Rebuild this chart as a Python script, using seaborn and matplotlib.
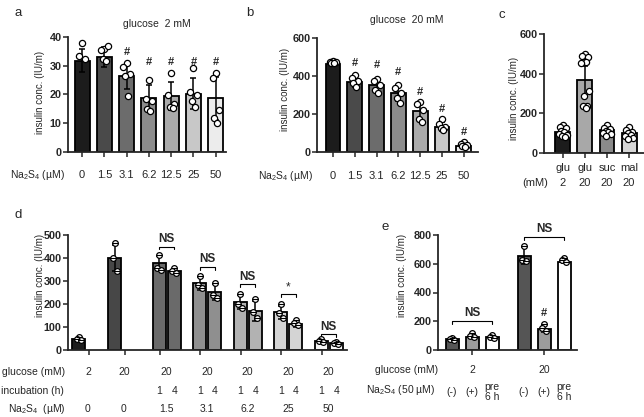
import numpy as np
import matplotlib
matplotlib.use("Agg")
import matplotlib.pyplot as plt
import seaborn as sns

# ---------------- data ----------------
# panel a : glucose 2 mM
conc_labels = ["0", "1.5", "3.1", "6.2", "12.5", "25", "50"]
a_mean = [31.8, 33.0, 26.3, 18.8, 19.4, 20.3, 18.7]
a_sd = [4.0, 3.4, 4.3, 4.4, 4.8, 5.3, 7.5]
a_points = [
    [37.8, 33.4, 32.2],
    [35.7, 35.4, 36.8, 32.3, 31.5],
    [30.8, 29.6, 27.3, 26.4, 19.4],
    [25.0, 18.4, 17.6, 15.0, 14.2],
    [27.6, 19.8, 16.7, 15.8, 15.4],
    [29.3, 21.0, 19.8, 17.7, 15.6],
    [27.6, 25.6, 14.6, 11.8, 10.1],
]
a_sig = ["", "", "#", "#", "#", "#", "#"]

# panel b : glucose 20 mM
b_mean = [462, 366, 352, 308, 216, 134, 32]
b_sd = [8, 22, 30, 38, 45, 25, 10]
b_points = [
    [476, 474, 472, 470, 465],
    [405, 387, 375, 361, 344],
    [384, 372, 352, 326, 312],
    [352, 335, 309, 283, 257],
    [265, 253, 222, 173, 161],
    [173, 148, 134, 126, 117],
    [52, 44, 38, 33, 30],
]
b_sig = ["", "#", "#", "#", "#", "#", "#"]

# panel c : sugars
c_sugar = ["glu", "glu", "suc", "mal"]
c_mm = ["2", "20", "20", "20"]
c_mean = [104, 366, 116, 99]
c_sd = [22, 72, 15, 15]
c_points = [
    [142, 133, 126, 112, 104, 97, 92, 86, 80],
    [497, 491, 486, 461, 457, 452, 315, 288, 238, 235, 226],
    [141, 128, 120, 112, 106, 100, 95, 88],
    [129, 116, 105, 99, 92, 85, 78, 71],
]

# panel d : incubation time
d_glucose = ["2", "20", "20", "20", "20", "20", "20"]
d_na2s4 = ["0", "0", "1.5", "3.1", "6.2", "25", "50"]
d_single_mean = [48, 400]
d_single_sd = [8, 58]
d_single_points = [[55, 48, 44], [465, 400, 345]]
d_mean_1h = [377, 290, 210, 164, 37]
d_sd_1h = [30, 27, 30, 28, 7]
d_mean_4h = [343, 252, 170, 112, 29]
d_sd_4h = [10, 35, 42, 10, 5]
d_points_1h = [[413, 358, 348], [322, 283, 268], [243, 199, 181],
               [200, 160, 141], [48, 39, 33]]
d_points_4h = [[358, 343, 333], [290, 239, 225], [222, 164, 138],
               [130, 116, 109], [36, 29, 25]]
d_sig = ["NS", "NS", "NS", "*", "NS"]

# panel e : pre-treatment
e_glucose = ["2", "20"]
e_treat = ["(-)", "(+)", "pre\n6 h"]
e_mean = [77, 93, 88, 657, 146, 615]
e_sd = [8, 10, 8, 60, 18, 10]
e_points = [[86, 77, 72], [116, 95, 88], [104, 93, 86],
            [724, 626, 620], [179, 151, 132], [643, 626, 615]]
e_sig = ["", "", "", "", "#", ""]

# ---------------- style ----------------
sns.set_style("ticks")
plt.rcParams["font.family"] = ["Liberation Sans", "DejaVu Sans"]
plt.rcParams["mathtext.fontset"] = "custom"
plt.rcParams["mathtext.rm"] = "Liberation Sans"
plt.rcParams["mathtext.it"] = "Liberation Sans:italic"

W, H = 644, 417
fig = plt.figure(figsize=(W / 100, H / 100), dpi=100)

grays7 = ["#1c1c1c", "#4a4a4a", "#6c6c6c", "#8c8c8c", "#aaaaaa", "#c8c8c8", "#ececec"]
jitter = [0.0, -0.18, 0.18, -0.09, 0.09, -0.22, 0.22, -0.04, 0.13, -0.13, 0.04]
NA2S4 = "Na$_2$S$_4$"


def add_ax(l, r, top, bottom):
    ax = fig.add_axes([l / W, 1 - bottom / H, (r - l) / W, (bottom - top) / H])
    ax.px = (top, bottom)
    return ax


def style(ax, yticks):
    sns.despine(ax=ax)
    for s in ["left", "bottom"]:
        ax.spines[s].set_linewidth(1.3)
    ax.set_ylim(yticks[0], yticks[-1])
    ax.set_yticks(yticks)
    ax.tick_params(direction="out", length=3.5, width=1.1, labelsize=7.8, pad=1)
    for lab in ax.get_yticklabels():
        lab.set_fontweight("bold")
    ax.set_xticklabels([])
    ax.set_ylabel("")


def bars(ax, xs, means, sds, colors, points, width, spread, s=20, crossed=False):
    ax.bar(xs, means, width, color=colors, edgecolor="black", linewidth=1.3, zorder=2)
    ax.errorbar(xs, means, yerr=sds, fmt="none", ecolor="black", elinewidth=1.1,
                capsize=2.5, capthick=1.1, zorder=3)
    for x, pts in zip(xs, points):
        px = [x + jitter[i] * spread for i in range(len(pts))]
        sns.scatterplot(x=px, y=pts, ax=ax, marker="o", s=s, color="white",
                        edgecolor="black", linewidth=0.9, zorder=4, legend=False)
        if crossed:
            ax.scatter(px, pts, marker="_", s=s * 0.9, color="black", linewidth=0.8, zorder=5)


def row(ax, xs, labels, ypx, size=7.5):
    top, bottom = ax.px
    y = (bottom - ypx) / (bottom - top)
    for x, lab in zip(xs, labels):
        ax.text(x, y, lab, transform=ax.get_xaxis_transform(), ha="center",
                va="center", fontsize=size, linespacing=0.95, clip_on=False)


def ftext(x, y, s, **kw):
    fig.text(x / W, 1 - y / H, s, **kw)


def ylab(x, y):
    ftext(x, y, "insulin conc. (IU/m)", rotation=90, ha="center", va="center", fontsize=7)


def marks(ax, xs, tops, sig, size=8):
    for x, t, m in zip(xs, tops, sig):
        if m:
            ax.text(x, t, m, ha="center", va="center", fontsize=size, fontweight="bold",
                    clip_on=False)


# ---------------- panel a ----------------
ax = add_ax(68, 226, 37, 152)
xs = np.arange(7)
bars(ax, xs, a_mean, a_sd, grays7, a_points, 0.67, 0.8)
ax.set_xlim(-0.63, 6.46)
ax.set_xticks(xs)
style(ax, [0, 10, 20, 30, 40])
row(ax, xs, conc_labels, 175, 8)
marks(ax, xs, [0, 0, 34.8, 31.3, 31.3, 31.3, 31.3], a_sig)
ftext(65, 175, NA2S4 + " (µM)", ha="right", va="center", fontsize=7.5)
ftext(157, 24, "glucose  2 mM", ha="center", va="center", fontsize=7.5)
ftext(18, 13, "a", ha="center", va="center", fontsize=9.5)
ylab(40, 92)

# ---------------- panel b ----------------
ax = add_ax(317, 478, 37.7, 152.3)
bars(ax, xs, b_mean, b_sd, grays7, b_points, 0.68, 0.75)
ax.set_xlim(-0.73, 6.65)
ax.set_xticks(xs)
style(ax, [0, 200, 400, 600])
row(ax, xs, conc_labels, 176, 8)
marks(ax, xs, [0, 466, 457, 422, 317, 225, 108], b_sig)
ftext(313, 176, NA2S4 + " (µM)", ha="right", va="center", fontsize=7.5)
ftext(407, 20, "glucose  20 mM", ha="center", va="center", fontsize=7.5)
ftext(250, 13, "b", ha="center", va="center", fontsize=9.5)
ylab(285, 89)

# ---------------- panel c ----------------
ax = add_ax(544, 644, 34, 153)
xc = np.arange(4)
bars(ax, xc, c_mean, c_sd, ["#1c1c1c", "#a8a8a8", "#8a8a8a", "#d6d6d6"], c_points, 0.68, 0.75)
ax.set_xlim(-0.86, 3.68)
ax.set_xticks(xc)
style(ax, [0, 200, 400, 600])
row(ax, xc, c_sugar, 168, 8)
row(ax, xc, c_mm, 183, 8)
ftext(535, 183, "(mM)", ha="center", va="center", fontsize=8)
ftext(502, 15, "c", ha="center", va="center", fontsize=9.5)
ylab(514, 98)

# ---------------- panel d ----------------
ax = add_ax(68, 347, 235, 350)
singles = [0.0, 2.4]
pair_left = 5.35 + 2.7 * np.arange(5)
pair_right = pair_left + 1.0
d_colors = ["#6a6a6a", "#8f8f8f", "#b2b2b2", "#d4d4d4", "#f8f8f8"]
bars(ax, singles, d_single_mean, d_single_sd, ["#1c1c1c", "#474747"], d_single_points,
     0.87, 0.7, s=17, crossed=True)
bars(ax, pair_left, d_mean_1h, d_sd_1h, d_colors, d_points_1h, 0.87, 0.7, s=17, crossed=True)
bars(ax, pair_right, d_mean_4h, d_sd_4h, d_colors, d_points_4h, 0.87, 0.7, s=17, crossed=True)
ax.set_xlim(-0.73, 17.87)
ax.set_xticks(list(np.array(singles) + 0.65) + list(pair_left + 0.05))
style(ax, [0, 100, 200, 300, 400, 500])
centers = list(np.array(singles) + 0.6) + list(pair_left + 0.5)
row(ax, centers, d_glucose, 372)
row(ax, pair_left, ["1"] * 5, 391)
row(ax, pair_right, ["4"] * 5, 391)
row(ax, centers, d_na2s4, 409)
bracket_y = [449, 362, 286, 242, 70]
for xl, xr, by, m in zip(pair_left, pair_right, bracket_y, d_sig):
    ax.plot([xl, xl, xr, xr], [by - 12, by, by, by - 12], color="black", lw=0.8, clip_on=False)
    ax.text((xl + xr) / 2, by + 6, m, ha="center", va="bottom", fontsize=8.5,
            fontweight="bold" if m == "NS" else "normal")
ftext(65, 372, "glucose (mM)", ha="right", va="center", fontsize=7.5)
ftext(64, 391, "incubation (h)", ha="right", va="center", fontsize=7.5)
ftext(66, 409, NA2S4 + "  (µM)", ha="right", va="center", fontsize=7.5)
ftext(18, 215, "d", ha="center", va="center", fontsize=9.5)
ylab(40, 275)

# ---------------- panel e ----------------
ax = add_ax(438, 577, 235, 350)
xe = [0, 1, 2, 3.6, 4.6, 5.6]
e_colors = ["#555555", "#9c9c9c", "#ffffff"] * 2
bars(ax, xe, e_mean, e_sd, e_colors, e_points, 0.65, 0.6, s=17, crossed=True)
ax.set_xlim(-0.7, 6.25)
ax.set_xticks([1, 4.6])
style(ax, [0, 200, 400, 600, 800])
row(ax, [1, 4.6], e_glucose, 370)
row(ax, xe, e_treat * 2, 392)
marks(ax, xe, [0, 0, 0, 0, 257, 0], e_sig)
for xl, xr, by in [(0, 2, 202), (3.6, 5.6, 787)]:
    ax.plot([xl, xl, xr, xr], [by - 20, by, by, by - 20], color="black", lw=0.8, clip_on=False)
    ax.text((xl + xr) / 2, by + 12, "NS", ha="center", va="bottom", fontsize=8.5,
            fontweight="bold", clip_on=False)
ftext(438, 370, "glucose (mM)", ha="right", va="center", fontsize=7.5)
ftext(435, 390, NA2S4 + " (50 µM)", ha="right", va="center", fontsize=7.5)
ftext(385, 227, "e", ha="center", va="center", fontsize=9.5)
ylab(402, 275)

fig.savefig("out.png", dpi=100)
